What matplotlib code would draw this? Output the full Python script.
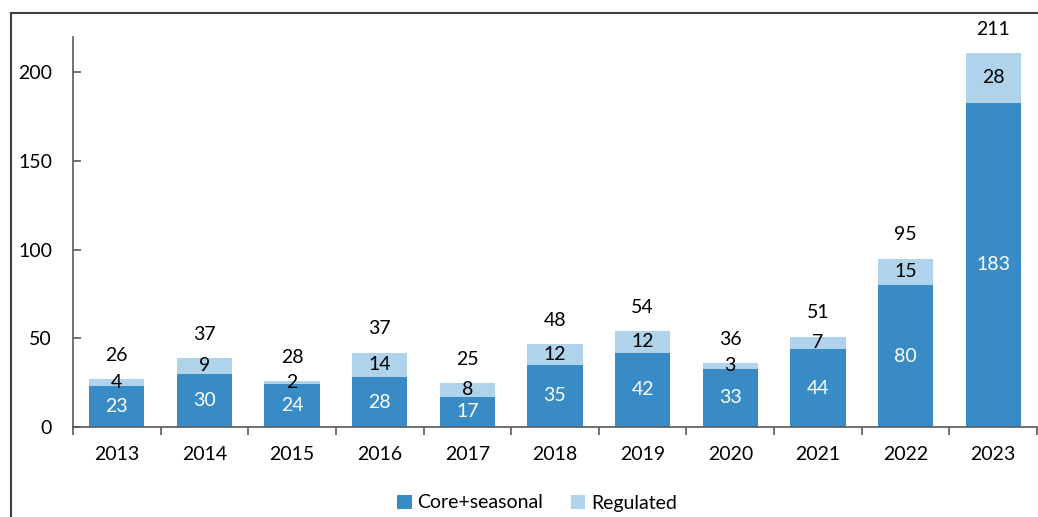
import matplotlib
matplotlib.use("Agg")
import matplotlib.pyplot as plt
from matplotlib.lines import Line2D
from matplotlib.patches import Patch
import numpy as np

years = ["2013", "2014", "2015", "2016", "2017", "2018", "2019", "2020", "2021", "2022", "2023"]
core_seasonal = [23, 30, 24, 28, 17, 35, 42, 33, 44, 80, 183]
regulated = [4, 9, 2, 14, 8, 12, 12, 3, 7, 15, 28]
totals = [26, 37, 28, 37, 25, 48, 54, 36, 51, 95, 211]
y_ticks = [0, 50, 100, 150, 200]

dark = "#388BC5"
light = "#AED3EA"
spine_col = "#595959"

plt.rcParams["font.family"] = ["Lato", "DejaVu Sans"]
fs = 14

fig = plt.figure(figsize=(10.38, 5.17), dpi=100)
ax = fig.add_axes([73 / 1038, 1 - 427 / 517, 964 / 1038, 390 / 517])

x = np.arange(len(years))
w = 0.63
ax.bar(x, core_seasonal, width=w, color=dark, zorder=2)
ax.bar(x, regulated, width=w, bottom=core_seasonal, color=light, zorder=2)

for xi, c, r, t in zip(x, core_seasonal, regulated, totals):
    ax.text(xi, c / 2, f"{c}", ha="center", va="center", color="white", fontsize=fs)
    ax.text(xi, c + r / 2, f"{r}", ha="center", va="center", color="black", fontsize=fs)
    ax.annotate(f"{t}", (xi, c + r), xytext=(0, 17), textcoords="offset points",
                ha="center", va="center", color="black", fontsize=fs)

ax.set_xlim(-0.5, len(years) - 0.5)
ax.set_ylim(0, 220)
ax.set_yticks(y_ticks)
ax.set_yticklabels([str(v) for v in y_ticks], fontsize=fs)
ax.tick_params(axis="y", direction="in", length=6, color=spine_col, width=1.2, pad=15)

ax.set_xticks(x)
ax.set_xticklabels(years, fontsize=fs)
ax.tick_params(axis="x", length=0, pad=14)
ax.set_xticks(np.arange(len(years) + 1) - 0.5, minor=True)
ax.tick_params(axis="x", which="minor", direction="out", length=6, color=spine_col, width=1.2)

for side in ["top", "right"]:
    ax.spines[side].set_visible(False)
for side in ["left", "bottom"]:
    ax.spines[side].set_color(spine_col)
    ax.spines[side].set_linewidth(1.2)

handles = [Patch(facecolor=dark, label="Core+seasonal"), Patch(facecolor=light, label="Regulated")]
fig.legend(handles=handles, loc="center", bbox_to_anchor=(537 / 1038, 1 - 503 / 517),
           ncol=2, frameon=False, fontsize=fs, handlelength=0.75, handleheight=0.75,
           handletextpad=0.3, columnspacing=1.4)

# outer frame edges
fig.add_artist(Line2D([11 / 1038, 11 / 1038], [0, 1 - 13 / 517], transform=fig.transFigure,
                      color="#404040", lw=1.5))
fig.add_artist(Line2D([11 / 1038, 1], [1 - 13 / 517, 1 - 13 / 517], transform=fig.transFigure,
                      color="#404040", lw=1.5))

fig.savefig("out.png", dpi=100)
